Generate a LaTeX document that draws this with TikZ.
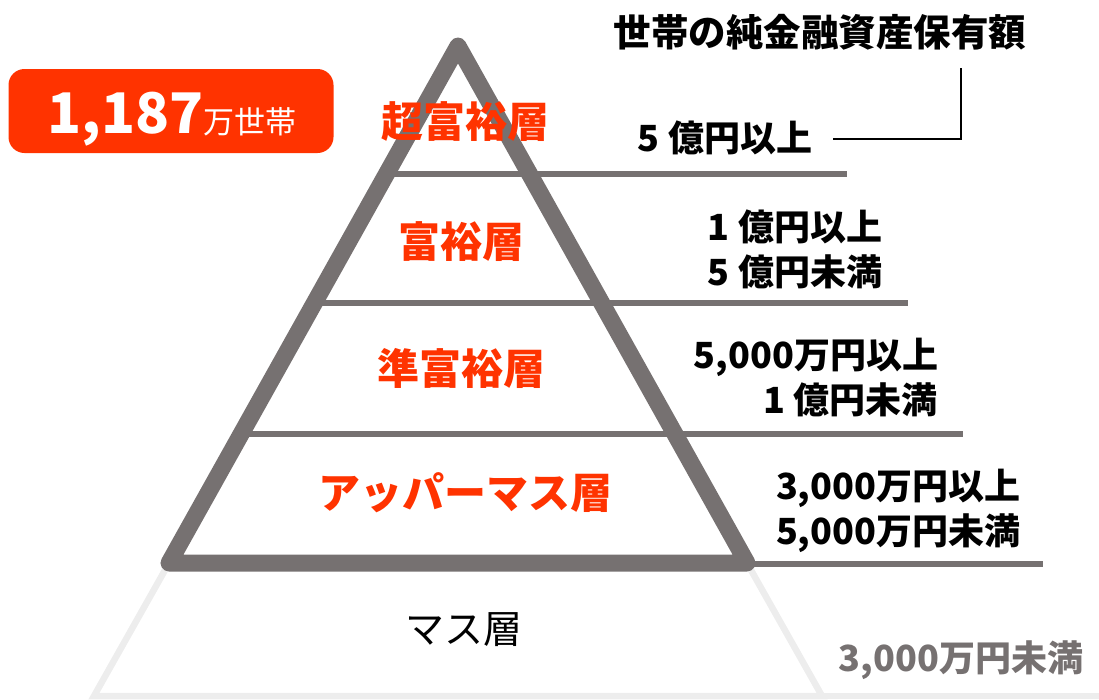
\documentclass[tikz,border=0pt]{standalone}
\usepackage{fontspec}
\setmainfont{Noto Sans CJK JP}
\definecolor{pyrgray}{HTML}{767171}
\definecolor{pyrred}{HTML}{FF3300}
\definecolor{lightline}{HTML}{EDEDED}
\begin{document}
\begin{tikzpicture}[x=1pt,y=-1pt,
  every node/.style={inner sep=0pt,outer sep=0pt},
  tierlabel/.style={text=pyrred,font=\fontsize{42}{42}\selectfont\bfseries},
  rangelabel/.style={text=black,font=\fontsize{36}{45}\selectfont\bfseries},
  divider/.style={draw=pyrgray,line width=6pt},
  frame/.style={draw=pyrgray,line width=17pt,line join=round,line cap=round},
  lowframe/.style={draw=lightline,line width=6.5pt,line join=miter},
  bracket/.style={draw=black,line width=1.5pt}]
\useasboundingbox (0,0) rectangle (1099,699);
% coordinates of the pyramid
\coordinate (apex) at (458,46);
\coordinate (bl) at (169,563);
\coordinate (br) at (747,563);
\coordinate (lbl) at (94,696);
\coordinate (lbr) at (822,696);
\coordinate (lend) at (1099,696);
% lower (mass) trapezoid
\draw[lowframe] (bl) -- (lbl) -- (lbr) -- (br);
\draw[lowframe] (lbr) -- (lend);
% dividers
\coordinate (d1l) at (387,174); \coordinate (d1r) at (847,174);
\coordinate (d2l) at (314,303); \coordinate (d2r) at (908,303);
\coordinate (d3l) at (240,434); \coordinate (d3r) at (963,434);
\coordinate (d4l) at (740,564); \coordinate (d4r) at (1043,564);
\draw[divider] (d1l) -- (d1r);
\draw[divider] (d2l) -- (d2r);
\draw[divider] (d3l) -- (d3r);
\draw[divider] (d4l) -- (d4r);
% pyramid frame
\draw[frame] (bl) -- (apex) -- (br) -- cycle;
% red badge
\node[fill=pyrred,rounded corners=16pt,minimum width=325pt,minimum height=84pt] (badge) at (171,111) {};
\node[text=white,anchor=base] (badgetext) at (172,133)
  {{\fontsize{56}{56}\selectfont\bfseries 1,187}{\fontsize{31}{31}\selectfont 万世帯}};
% tier labels
\node[tierlabel] (t1) at (465,122) {超富裕層};
\node[tierlabel] (t2) at (461,242) {富裕層};
\node[tierlabel] (t3) at (461,368) {準富裕層};
\node[tierlabel] (t4) at (465,493) {アッパーマス層};
\node[font=\fontsize{39}{39}\selectfont,text=black] (t5) at (464,630) {マス層};
% range labels
\node[rangelabel,anchor=east] (r1) at (812,138) {5 億円以上};
\node[rangelabel,anchor=east,align=right] (r2) at (882,249) {1 億円以上\\5 億円未満};
\node[rangelabel,anchor=east,align=right] (r3) at (938,378) {5,000万円以上\\1 億円未満};
\node[rangelabel,anchor=west,align=left] (r4) at (776,511) {3,000万円以上\\5,000万円未満};
\node[rangelabel,text=pyrgray,anchor=east] (r5) at (1083,660) {3,000万円未満};
% title
\node[font=\fontsize{37.5}{37.5}\selectfont\bfseries,text=black] (title) at (820,32) {世帯の純金融資産保有額};
% bracket from the top range to the title
\coordinate (bstart) at (833,139);
\coordinate (bcorner) at (961,139);
\coordinate (bend) at (961,68);
\draw[bracket] (bstart) -- (bcorner) -- (bend);
\end{tikzpicture}
\end{document}
